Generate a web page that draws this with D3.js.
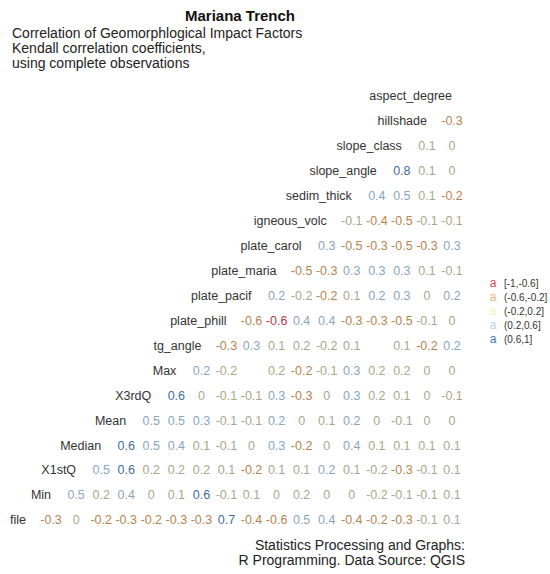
<!DOCTYPE html>
<html>
<head>
<meta charset="utf-8">
<script src="https://cdn.jsdelivr.net/npm/d3@7/dist/d3.min.js"></script>
<style>
  html, body { margin: 0; padding: 0; background: #fff; }
  svg { display: block; font-family: "Liberation Sans", Arial, sans-serif; }
</style>
</head>
<body>
<svg id="chart" width="550" height="574"></svg>
<script>
// Variables in the order of the correlation matrix
const variables = ["file", "Min", "X1stQ", "Median", "Mean", "X3rdQ", "Max", "tg_angle",
  "plate_phill", "plate_pacif", "plate_maria", "plate_carol", "igneous_volc",
  "sedim_thick", "slope_angle", "slope_class", "hillshade", "aspect_degree"];

// Kendall coefficients of each variable with every variable listed after it (null = not available)
const file_r        = [-0.31, 0.02, -0.22, -0.28, -0.21, -0.29, -0.27, 0.68, -0.41, -0.58, 0.49, 0.38, -0.42, -0.21, -0.30, -0.08, 0.09];
const min_r         = [0.47, 0.18, 0.41, 0.01, 0.12, 0.63, -0.09, 0.07, -0.03, 0.18, 0.02, -0.01, -0.17, -0.12, -0.06, 0.08];
const x1stq_r       = [0.52, 0.64, 0.19, 0.18, 0.19, 0.12, -0.23, 0.07, 0.09, 0.21, 0.11, -0.18, -0.31, -0.08, 0.06];
const median_r      = [0.64, 0.51, 0.41, 0.11, -0.09, 0.01, 0.28, -0.22, -0.02, 0.38, 0.09, 0.12, 0.07, 0.06];
const mean_r        = [0.49, 0.53, 0.31, -0.07, -0.11, 0.21, 0.03, 0.08, 0.21, -0.01, -0.08, 0.02, 0.01];
const x3rdq_r       = [0.62, 0.02, -0.09, -0.12, 0.29, -0.27, -0.02, 0.31, 0.18, 0.07, 0.01, -0.06];
const max_r         = [0.22, -0.18, null, 0.17, -0.23, -0.09, 0.27, 0.19, 0.18, 0.03, -0.02];
const tg_angle_r    = [-0.29, 0.32, 0.09, 0.18, -0.17, 0.11, null, 0.08, -0.22, 0.21];
const plate_phill_r = [-0.57, -0.61, 0.42, 0.38, -0.31, -0.28, -0.52, -0.07, 0.01];
const plate_pacif_r = [0.23, -0.17, -0.24, 0.11, 0.22, 0.27, 0.02, 0.21];
const plate_maria_r = [-0.48, -0.32, 0.29, 0.31, 0.27, 0.12, -0.08];
const plate_carol_r = [0.28, -0.49, -0.33, -0.52, -0.27, 0.31];
const igneous_r     = [-0.08, -0.41, -0.47, -0.11, -0.06];
const sedim_r       = [0.38, 0.52, 0.09, -0.22];
const slope_angle_r = [0.79, 0.12, 0.02];
const slope_class_r = [0.08, -0.01];
const hillshade_r   = [-0.29];
const aspect_r      = [];

const rows = [file_r, min_r, x1stq_r, median_r, mean_r, x3rdq_r, max_r, tg_angle_r,
  plate_phill_r, plate_pacif_r, plate_maria_r, plate_carol_r, igneous_r, sedim_r,
  slope_angle_r, slope_class_r, hillshade_r, aspect_r];

// Coefficient classes
const breakLabels = ["[-1,-0.6]", "(-0.6,-0.2]", "(-0.2,0.2]", "(0.2,0.6]", "(0.6,1]"];
const textColors  = ["#b3384a", "#b8844f", "#a8a88a", "#8aa6be", "#3f6d9e"];
const keyColors   = ["#d9475a", "#f0b682", "#fbf1b0", "#b3d6e8", "#3d77b0"];

const titleText = "Mariana Trench";
const subtitleLines = ["Correlation of Geomorphlogical Impact Factors",
  "Kendall correlation coefficients,", "using complete observations"];
const captionLines = ["Statistics Processing and Graphs:", "R Programming. Data Source: QGIS"];

function binOf(v) {
  if (v <= -0.6) return 0;
  if (v <= -0.2) return 1;
  if (v <= 0.2) return 2;
  if (v <= 0.6) return 3;
  return 4;
}
function fmt(v) {
  const r = Math.round(v * 10) / 10;
  return r === 0 ? "0" : String(r);
}

const svg = d3.select("#chart");

// Square grid: one column / row per variable
const x = d3.scaleBand().domain(variables).range([13.47, 464.53]);
const y = d3.scaleBand().domain(variables.slice().reverse()).range([83.53, 532.47]);
const cx = v => x(v) + x.bandwidth() / 2;
const cy = v => y(v) + y.bandwidth() / 2;

const cells = [];
rows.forEach((vals, i) => {
  vals.forEach((v, k) => {
    if (v === null) return;
    cells.push({ row: variables[i], col: variables[i + 1 + k], value: v });
  });
});

const body = svg.append("g");

// Variable names on the diagonal
body.selectAll("text.diag")
  .data(variables)
  .join("text")
  .attr("class", "diag")
  .attr("x", d => cx(d))
  .attr("y", d => cy(d))
  .attr("dy", "0.35em")
  .attr("text-anchor", "end")
  .attr("font-size", 12.5)
  .attr("fill", "#333")
  .text(d => d);

// Coefficients
body.selectAll("text.coef")
  .data(cells)
  .join("text")
  .attr("class", "coef")
  .attr("x", d => cx(d.col))
  .attr("y", d => cy(d.row))
  .attr("dy", "0.35em")
  .attr("text-anchor", "middle")
  .attr("font-size", 12.5)
  .attr("fill", d => textColors[binOf(d.value)])
  .text(d => fmt(d.value));

// Title, subtitle, caption
svg.append("text")
  .attr("x", 240).attr("y", 20.5)
  .attr("text-anchor", "middle")
  .attr("font-size", 15).attr("font-weight", "bold")
  .attr("fill", "#111")
  .text(titleText);

svg.append("g").selectAll("text")
  .data(subtitleLines)
  .join("text")
  .attr("x", 12)
  .attr("y", (d, i) => 38 + i * 15)
  .attr("font-size", 14)
  .attr("fill", "#222")
  .text(d => d);

svg.append("g").selectAll("text")
  .data(captionLines)
  .join("text")
  .attr("x", 465)
  .attr("y", (d, i) => 550 + i * 15)
  .attr("text-anchor", "end")
  .attr("font-size", 14)
  .attr("fill", "#222")
  .text(d => d);

// Legend
const legend = svg.append("g").attr("transform", "translate(493,283)");
const item = legend.selectAll("g")
  .data(breakLabels)
  .join("g")
  .attr("transform", (d, i) => `translate(0,${i * 14})`);
item.append("text")
  .attr("x", 0).attr("dy", "0.35em")
  .attr("text-anchor", "middle")
  .attr("font-size", 12)
  .attr("fill", (d, i) => keyColors[i])
  .text("a");
item.append("text")
  .attr("x", 11).attr("dy", "0.35em")
  .attr("font-size", 10)
  .attr("fill", "#333")
  .text(d => d);
</script>
</body>
</html>
